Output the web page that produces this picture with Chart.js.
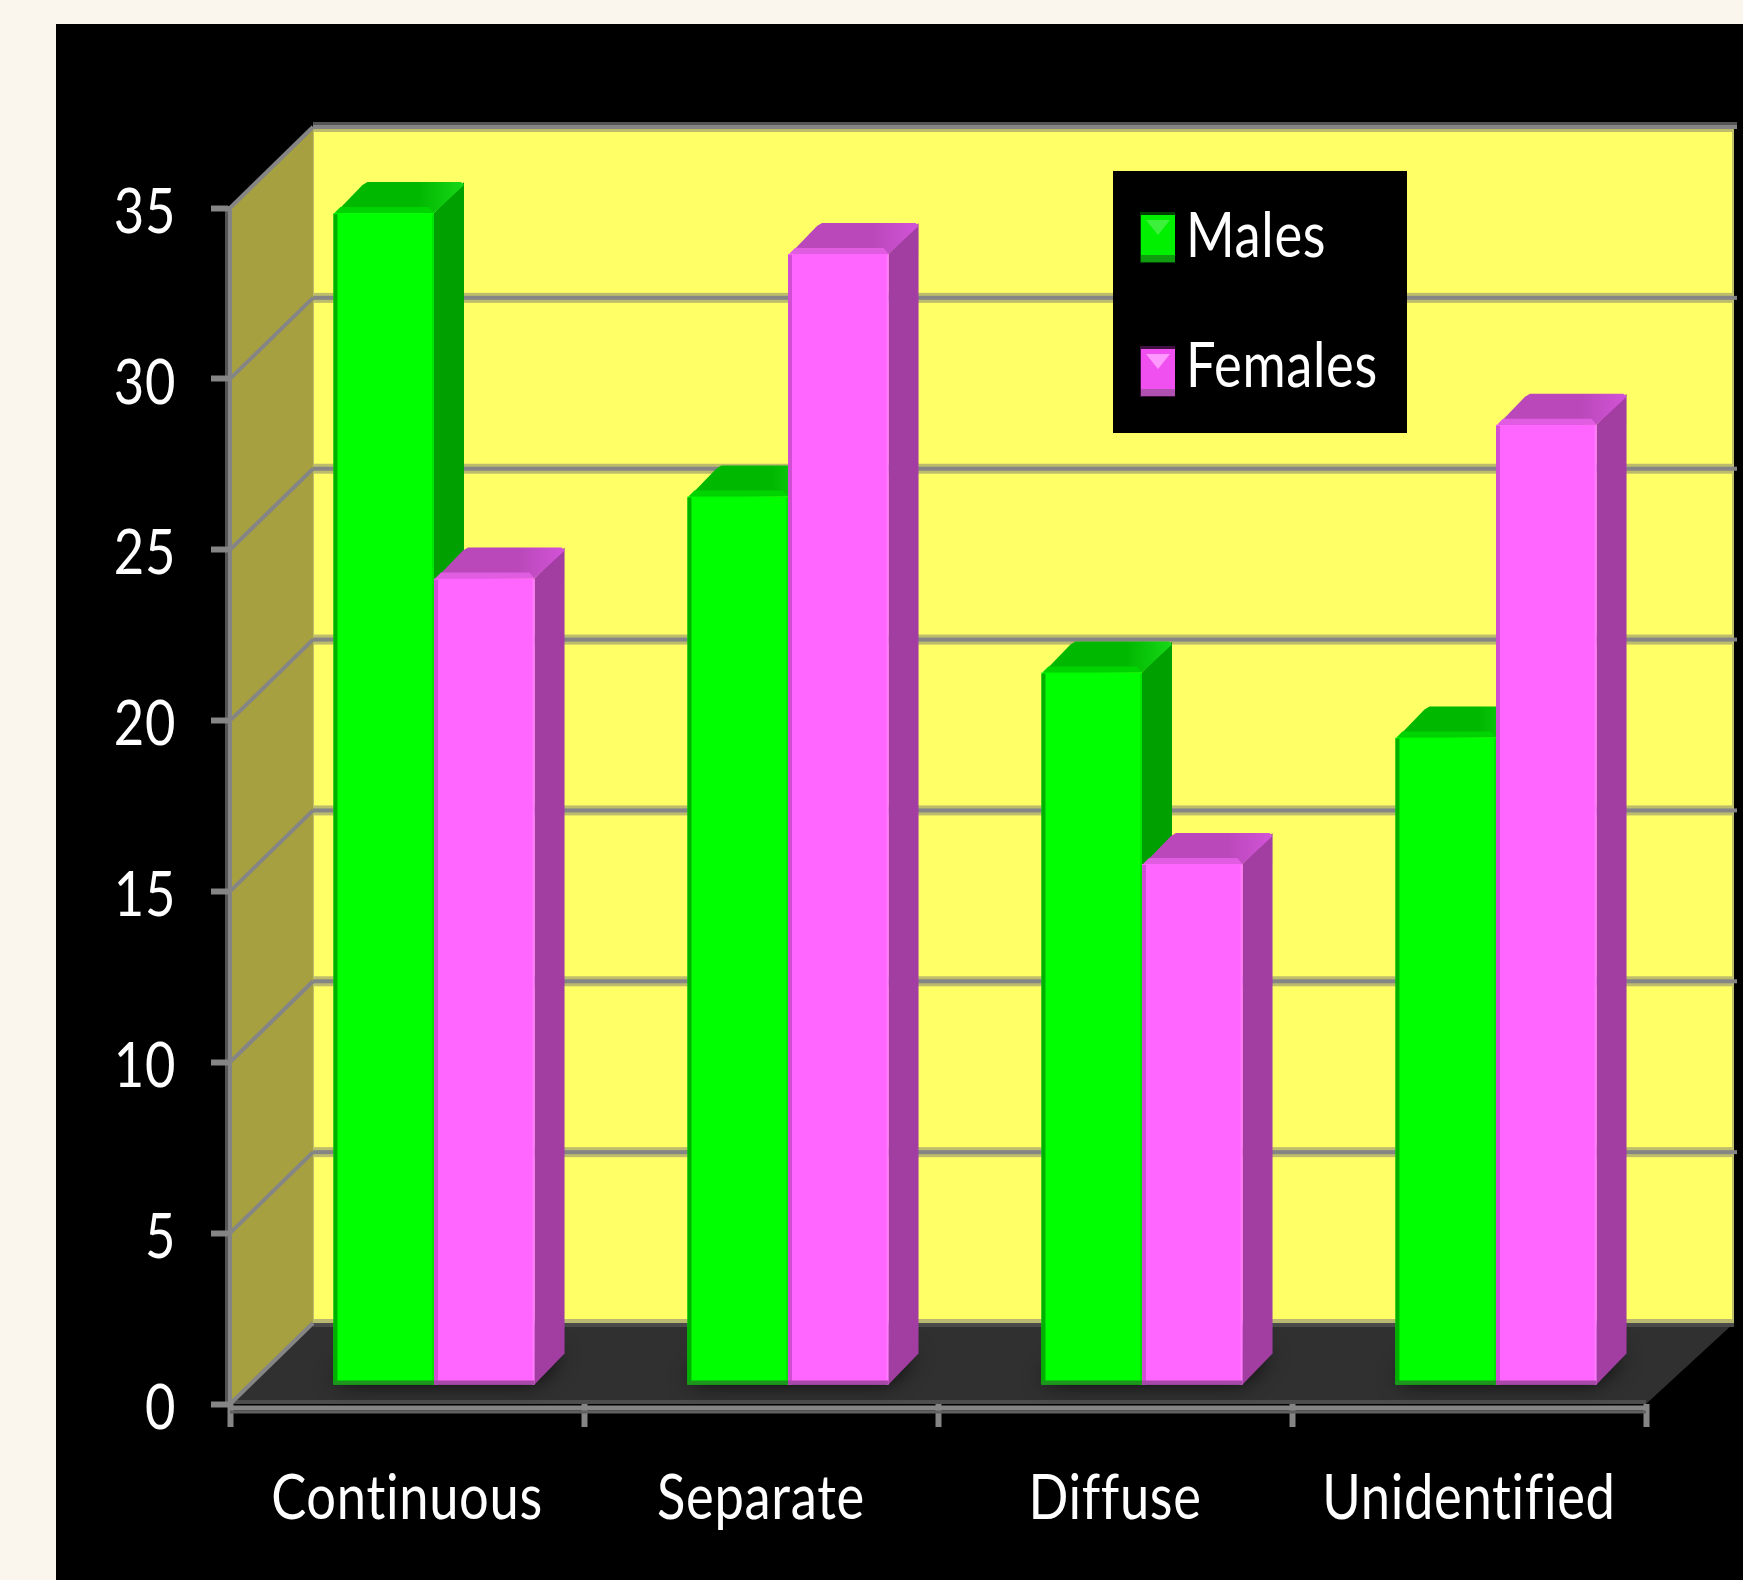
<!DOCTYPE html>
<html>
<head>
<meta charset="utf-8">
<title>Males and females by category</title>
<style>
  html, body { margin: 0; padding: 0; background: #faf6ee; }
  canvas { display: block; }
</style>
<script src="https://cdn.jsdelivr.net/npm/chart.js@4"></script>
</head>
<body>
<canvas id="chart" width="1743" height="1580"></canvas>
<script>
const categories = ['Continuous', 'Separate', 'Diffuse', 'Unidentified'];
const males = [34.3, 26.0, 20.85, 18.95];
const females = [23.6, 33.1, 15.25, 28.1];
const yTicks = [0, 5, 10, 15, 20, 25, 30, 35];

// Projection of the box: back wall and floor depth, and where the bars stand.
const WALL = { dx: 83, dy: 81, right: 1734 };
const BAR = { shiftX: 27, shiftY: -19, depthX: 30, depthY: 31 };
const GRAY = '#858585';
const FONT = "Lato, 'Liberation Sans', sans-serif";
const TEXT_WIDTH = 0.86;
const SHADES = [
  { side: '#00a000', top: '#00b800', topLight: '#18d818', rim: '#00d400', left: '#00b000', right: '#00e600', base: '#1c961c' },
  { side: '#a23ea2', top: '#ba48ba', topLight: '#d254d8', rim: '#e05ce0', left: '#d04ed4', right: '#ff7cff', base: '#a848a8' }
];

function poly(ctx, pts, fill) {
  ctx.beginPath();
  pts.forEach((p, i) => i ? ctx.lineTo(p[0], p[1]) : ctx.moveTo(p[0], p[1]));
  ctx.closePath();
  ctx.fillStyle = fill;
  ctx.fill();
}

function hline(ctx, x0, x1, y, w, color) {
  ctx.fillStyle = color;
  ctx.fillRect(x0, y - w / 2, x1 - x0, w);
}

const boxPlugin = {
  id: 'box3d',
  // All canvas text is set slightly condensed around its anchor point.
  beforeInit(chart) {
    const ctx = chart.ctx;
    const fill = ctx.fillText.bind(ctx);
    ctx.fillText = (text, x, y) => {
      ctx.save();
      ctx.translate(x, y);
      ctx.scale(TEXT_WIDTH, 1);
      ctx.letterSpacing = '0.8px';
      fill(text, 0, 0);
      ctx.restore();
    };
  },
  // Page, black panel, walls and floor, all placed from the value scale.
  beforeDraw(chart) {
    const { ctx, scales: { y }, chartArea: a } = chart;
    ctx.save();
    ctx.fillStyle = '#faf6ee';
    ctx.fillRect(0, 0, chart.width, chart.height);
    ctx.fillStyle = '#000';
    ctx.fillRect(56, 24, chart.width - 56, chart.height - 24);

    const y0 = y.getPixelForValue(0), yTop = y.getPixelForValue(35);
    const backL = a.left + WALL.dx;

    poly(ctx, [[backL, yTop - WALL.dy], [WALL.right, yTop - WALL.dy], [WALL.right, y0 - WALL.dy], [backL, y0 - WALL.dy]], '#ffff66');
    ctx.fillStyle = '#bdbd6a';
    ctx.fillRect(WALL.right - 2, yTop - WALL.dy, 2, y0 - yTop);
    ctx.fillRect(backL - 1, yTop - WALL.dy, 2, y0 - yTop);

    poly(ctx, [[a.left, yTop], [backL, yTop - WALL.dy], [backL, y0 - WALL.dy], [a.left, y0]], '#a6a040');

    poly(ctx, [[a.left, y0], [backL, y0 - WALL.dy], [WALL.right, y0 - WALL.dy], [a.right, y0]], '#303030');
    hline(ctx, backL, WALL.right, y0 - WALL.dy + 2, 4, '#4a4a4a');
    hline(ctx, backL, WALL.right, y0 - WALL.dy - 2, 4, '#b8b870');
    hline(ctx, a.left, a.right, y0 - 2, 4, '#4d4d4d');

    // Grid lines run across the back wall and down the side wall.
    yTicks.forEach(v => {
      if (v === 0) return;
      const py = y.getPixelForValue(v), by = py - WALL.dy;
      hline(ctx, backL, WALL.right, by, 10, '#bcbc6c');
      if (v === 35) {
        ctx.fillStyle = '#000';
        ctx.fillRect(backL, by - 7, WALL.right - backL + 3, 5);
        hline(ctx, backL, WALL.right + 3, by - 3, 4, '#555');
      }
      hline(ctx, backL, WALL.right + 3, by, 4, GRAY);
      ctx.strokeStyle = GRAY;
      ctx.lineWidth = 4;
      ctx.beginPath();
      ctx.moveTo(a.left, py);
      ctx.lineTo(backL, by);
      ctx.stroke();
    });
    ctx.strokeStyle = GRAY;
    ctx.lineWidth = 4;
    ctx.beginPath();
    ctx.moveTo(a.left, y0);
    ctx.lineTo(backL, y0 - WALL.dy);
    ctx.stroke();

    ctx.fillStyle = '#555';
    ctx.fillRect(a.left - 5, yTop, 3, y0 - yTop);
    ctx.restore();
  },
  // Axis rail, floor shadows and the side and top faces of each bar.
  beforeDatasetsDraw(chart) {
    const { ctx, scales: { y }, chartArea: a } = chart;
    const y0 = y.getPixelForValue(0);
    hline(ctx, a.left, a.right, y0 + 4, 5, GRAY);
    hline(ctx, a.left, a.right, y0 + 8, 3, '#606060');

    ctx.save();
    ctx.translate(BAR.shiftX, BAR.shiftY);
    const first = chart.getDatasetMeta(0).data;
    const second = chart.getDatasetMeta(1).data;
    first.forEach((el, i) => {
      const end = second[i];
      const xL = el.x - el.width / 2, xR = end.x + end.width / 2, b = el.base;
      ctx.save();
      ctx.shadowColor = 'rgba(0,0,0,0.95)';
      ctx.shadowBlur = 22;
      poly(ctx, [[xL, b - 3], [xR, b - 3], [xR + BAR.depthX - 3, b - BAR.depthY], [xL + BAR.depthX, b - BAR.depthY]], '#111');
      ctx.restore();
    });
    [0, 1].forEach(d => {
      const s = SHADES[d];
      chart.getDatasetMeta(d).data.forEach(el => {
        const l = el.x - el.width / 2, r = el.x + el.width / 2, t = el.y, b = el.base;
        const dx = BAR.depthX, dy = BAR.depthY;
        poly(ctx, [[r, t], [r + dx, t - dy], [r + dx, b - dy], [r, b]], s.side);
        const g = ctx.createLinearGradient(l, 0, r + dx, 0);
        g.addColorStop(0, s.top);
        g.addColorStop(0.65, s.top);
        g.addColorStop(1, s.topLight);
        poly(ctx, [[l + 1, t + 1], [l + dx - 1, t - dy + 3], [l + dx + 4, t - dy], [r + dx - 3, t - dy], [r + dx, t - dy + 3], [r, t]], g);
        poly(ctx, [[l + 1, t], [l + 7, t - 6], [r - 5, t - 6], [r, t]], s.rim);
      });
    });
  },
  // Bevelled edges on the front faces, then back to the unshifted frame.
  afterDatasetsDraw(chart) {
    const { ctx } = chart;
    [0, 1].forEach(d => {
      const s = SHADES[d];
      chart.getDatasetMeta(d).data.forEach(el => {
        const l = el.x - el.width / 2, r = el.x + el.width / 2, t = el.y, b = el.base;
        ctx.fillStyle = s.left;
        ctx.fillRect(l, t + 1, 4, b - t - 1);
        ctx.fillStyle = s.right;
        ctx.fillRect(r - 2, t + 1, 2, b - t - 1);
        ctx.fillStyle = s.base;
        ctx.fillRect(l, b - 4, r - l, 4);
      });
    });
    ctx.restore();
  },
  // Legend box with bevelled swatches, labels taken from the datasets.
  afterDraw(chart) {
    const { ctx } = chart;
    ctx.save();
    ctx.fillStyle = '#000';
    ctx.fillRect(1113, 171, 294, 262);
    const rows = [{ top: 213, base: 257 }, { top: 347, base: 387 }];
    const swatch = [
      { face: '#00f000', edge: '#0f9c0f', hi: '#3cf03c', rim: '#004000' },
      { face: '#f050f0', edge: '#b050b0', hi: '#ff99ff', rim: '#401040' }
    ];
    chart.data.datasets.forEach((ds, i) => {
      const r = rows[i], c = swatch[i], x = 1141, w = 34, h = 47, t = r.top + 2;
      ctx.fillStyle = c.rim;
      ctx.fillRect(x - 1, t - 3, w + 1, h + 4);
      ctx.fillStyle = c.face;
      ctx.fillRect(x, t, w, h);
      ctx.fillStyle = c.edge;
      ctx.fillRect(x, t + h - 7, w, 7);
      poly(ctx, [[x + 5, t + 5], [x + w - 5, t + 5], [x + w / 2, t + 20]], c.hi);
      ctx.fillStyle = '#fff';
      ctx.font = '61px ' + FONT;
      ctx.textAlign = 'left';
      ctx.textBaseline = 'alphabetic';
      ctx.fillText(ds.label, 1186, r.base);
    });
    ctx.restore();
  }
};

new Chart(document.getElementById('chart'), {
  type: 'bar',
  data: {
    labels: categories,
    datasets: [
      { label: 'Males', data: males, backgroundColor: '#00ff00', borderWidth: 0, clip: false },
      { label: 'Females', data: females, backgroundColor: '#ff66ff', borderWidth: 0, clip: false }
    ]
  },
  plugins: [boxPlugin],
  options: {
    responsive: false,
    animation: false,
    categoryPercentage: 0.568,
    barPercentage: 1,
    layout: { padding: { left: 0, top: 208, right: 97, bottom: 0 } },
    plugins: { legend: { display: false }, tooltip: { enabled: false } },
    scales: {
      x: {
        afterFit(scale) { scale.height = 176; },
        grid: { drawOnChartArea: false, drawTicks: true, tickLength: 23, tickWidth: 6, tickColor: GRAY, offset: true },
        border: { display: false },
        ticks: {
          color: '#fff', font: { family: FONT, size: 61 }, padding: 36,
          autoSkip: false, maxRotation: 0, minRotation: 0
        }
      },
      y: {
        min: 0,
        max: 35,
        afterFit(scale) { scale.width = 230; },
        afterBuildTicks(scale) { scale.ticks = yTicks.map(value => ({ value })); },
        grid: { drawOnChartArea: false, drawTicks: true, tickLength: 19, tickWidth: 6, tickColor: GRAY },
        border: { display: true, color: GRAY, width: 4 },
        ticks: { color: '#fff', font: { family: FONT, size: 61 }, padding: 35, labelOffset: 5 }
      }
    }
  }
});
</script>
</body>
</html>
